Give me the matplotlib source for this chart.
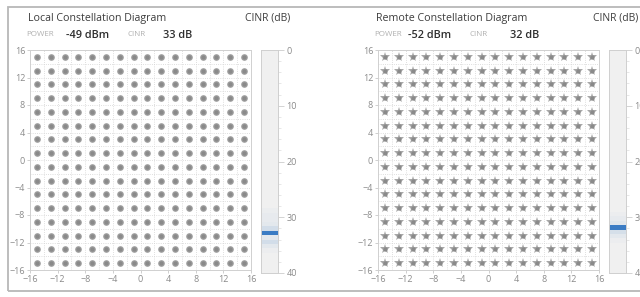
import numpy as np
import matplotlib
matplotlib.use("Agg")
import matplotlib.pyplot as plt
from matplotlib.patches import Rectangle
from matplotlib.colors import to_rgb

plt.rcParams['font.family'] = ['Open Sans', 'DejaVu Sans']

# 256-QAM constellation levels (per axis)
levels = [-15, -13, -11, -9, -7, -5, -3, -1, 1, 3, 5, 7, 9, 11, 13, 15]
axis_ticks = [-16, -12, -8, -4, 0, 4, 8, 12, 16]
cinr_ticks = [0, 10, 20, 30, 40]

# panel readouts
local_power = "-49 dBm"
local_cinr = "33 dB"
remote_power = "-52 dBm"
remote_cinr = "32 dB"

# CINR histogram (bin centre in dB, relative intensity)
local_bins = [28.8, 29.6, 30.4, 31.2, 32.0, 32.8, 33.6, 34.4, 35.2, 36.0]
local_hist = [0.05, 0.08, 0.08, 0.12, 0.28, 1.0, 0.12, 0.28, 0.12, 0.04]
remote_bins = [29.4, 30.2, 31.0, 31.8, 32.6, 33.4, 34.2]
remote_hist = [0.04, 0.08, 0.15, 1.0, 0.25, 0.12, 0.04]

W, H = 640, 297
fig = plt.figure(figsize=(W / 100, H / 100), dpi=100)


def px(x0, y0, x1, y1):
    # pixel box (top-left origin) -> figure fraction rect
    return [x0 / W, 1 - y1 / H, (x1 - x0) / W, (y1 - y0) / H]


def ftext(x, y, s, **kw):
    fig.text(x / W, 1 - y / H, s, va='center', ha='left', **kw)


# outer panel frame
fig.patches.append(Rectangle((8 / W, 1 - 291 / H), 1.2, (291 - 7) / H,
                             transform=fig.transFigure, fill=False,
                             edgecolor='#b8b8b8', lw=1.3))

bar_face = np.array(to_rgb('#f0f0f0'))
blue = np.array(to_rgb('#3b7cc4'))


def constellation(ax, style):
    X, Y = np.meshgrid(levels, levels)
    x, y = X.ravel(), Y.ravel()
    if style == 'local':
        ax.plot(x, y, 'o', ms=4.8, color='#8e8e8e', mew=0, alpha=0.85)
        ax.plot(x, y, 'o', ms=3.0, color='#7c7c7c', mew=0, alpha=0.6)
    else:
        ax.plot(x, y, '*', ms=7.2, color='#939393', mew=0, alpha=0.8)
        ax.plot(x, y, 'o', ms=3.2, color='#7e7e7e', mew=0, alpha=0.7)
    ax.set_xlim(-16, 16)
    ax.set_ylim(-16, 16)
    ax.set_xticks(axis_ticks)
    ax.set_yticks(axis_ticks)
    ax.set_xticks(np.arange(-16, 17, 2), minor=True)
    ax.set_yticks(np.arange(-16, 17, 2), minor=True)
    ax.grid(True, which='both', color='#d4d4d4', ls=':', lw=0.6)
    ax.tick_params(which='both', labelsize=6.5, labelcolor='#8a8a8a', color='#c8c8c8',
                   length=2, width=0.6, pad=1.5)
    ax.tick_params(which='minor', length=0)
    for s in ax.spines.values():
        s.set_color('#d0d0d0')
        s.set_linewidth(0.7)
    ax.set_axisbelow(True)


def gauge(ax, bins, hist):
    ax.set_facecolor('#f0f0f0')
    for c, v in zip(bins, hist):
        col = bar_face + (blue - bar_face) * (v if v >= 1 else v * 0.6)
        ax.barh(c, 1, height=0.8, left=0, color=col, lw=0)
    ax.set_xlim(0, 1)
    ax.set_ylim(40, 0)
    ax.set_xticks([])
    ax.yaxis.tick_right()
    ax.set_yticks(cinr_ticks)
    ax.set_yticks(np.arange(0, 41, 2), minor=True)
    ax.tick_params(which='major', labelsize=6.5, labelcolor='#8a8a8a', color='#cccccc',
                   length=4, width=0.6, pad=2)
    ax.tick_params(which='minor', color='#dddddd', length=2, width=0.5)
    for s in ax.spines.values():
        s.set_color('#cfcfcf')
        s.set_linewidth(0.7)


panels = [
    (0, 'Local Constellation Diagram', local_power, local_cinr, 'local', local_bins, local_hist,
     [66, 128, 163]),
    (348, 'Remote Constellation Diagram', remote_power, remote_cinr, 'remote', remote_bins, remote_hist,
     [408 - 348, 469 - 348, 510 - 348]),
]

for dx, title, pw, cn, style, bins, hist, offs in panels:
    ax = fig.add_axes(px(30 + dx, 50, 251 + dx, 270))
    constellation(ax, style)
    gx = fig.add_axes(px(261 + dx, 50, 278 + dx, 273))
    gauge(gx, bins, hist)

    ftext(28 + dx, 18, title, fontsize=7.7, color='#3c3c3c')
    ftext(245 + dx, 18, 'CINR (dB)', fontsize=7.5, color='#3c3c3c')
    ftext(26 + dx, 35, 'POWER', fontsize=5.8, color='#b0b0b0')
    ftext(offs[0] + dx, 35, pw, fontsize=7.8, color='#2e2e2e', fontweight='semibold')
    ftext(offs[1] + dx, 35, 'CINR', fontsize=5.8, color='#b0b0b0')
    ftext(offs[2] + dx, 35, cn, fontsize=7.8, color='#2e2e2e', fontweight='semibold')

fig.savefig('out.png', dpi=100, facecolor='white')
